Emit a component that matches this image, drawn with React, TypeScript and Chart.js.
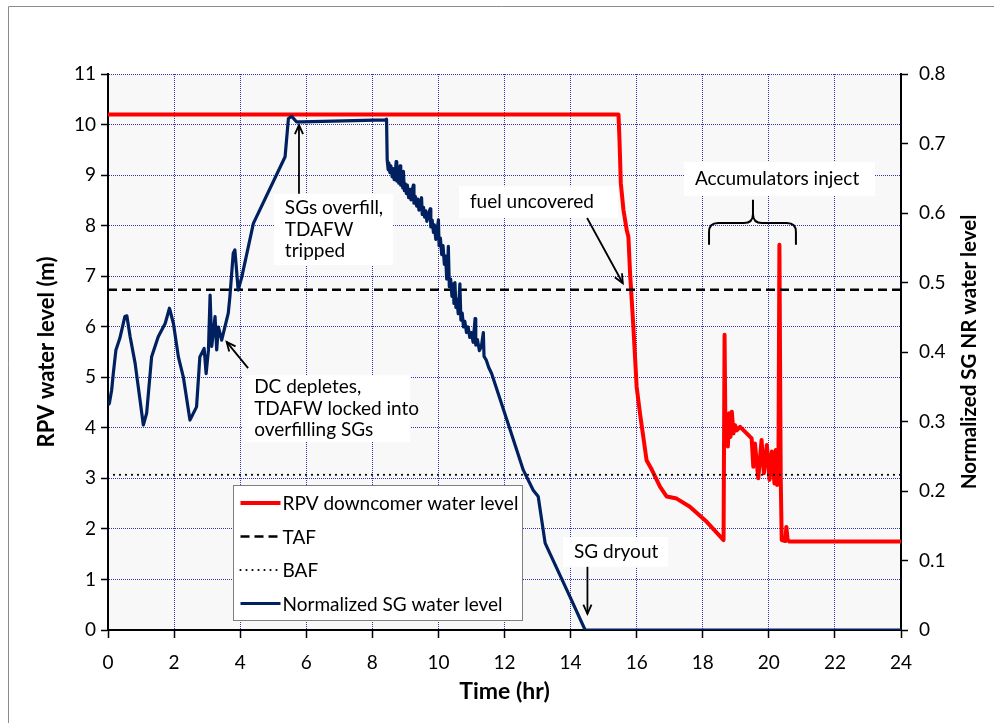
import { useEffect, useRef } from "react";
import { Chart, registerables } from "chart.js";

Chart.register(...registerables);

// RPV downcomer collapsed water level (m) vs time (hr)
const rpvTime = [
  0, 15.45, 15.48, 15.52, 15.6, 15.7, 15.75, 15.8, 15.9, 16.0, 16.1, 16.3, 16.46, 16.71, 16.91, 17.21, 17.61,
  18.12, 18.63, 18.66, 18.69, 18.72, 18.76, 18.8, 18.84, 18.88, 18.93, 18.98, 19.03, 19.13, 19.33, 19.48,
  19.53, 19.58, 19.68, 19.78, 19.85, 19.94, 20.02, 20.09, 20.17, 20.21, 20.25, 20.29, 20.32, 20.36, 20.39,
  20.5, 20.53, 20.57, 20.62, 24,
];
const rpvLevel = [
  10.2, 10.2, 9.7, 8.84, 8.31, 7.91, 7.78, 7.06, 6.0, 4.81, 4.29, 3.36, 3.17, 2.83, 2.64, 2.6, 2.44,
  2.14, 1.78, 5.84, 3.7, 4.22, 3.63, 4.29, 3.82, 4.32, 3.89, 4.05, 3.95, 4.02, 3.89, 3.79,
  3.23, 3.69, 3.0, 3.76, 3.1, 3.66, 2.97, 3.53, 2.9, 3.56, 2.87, 3.1, 7.62, 3.0, 1.78,
  1.76, 2.04, 1.78, 1.75, 1.75,
];

// Normalized SG narrow-range water level (fraction) vs time (hr)
const sgTime = [
  0, 0.04, 0.11, 0.16, 0.24, 0.36, 0.51, 0.57, 0.67, 0.82, 1.07, 1.17, 1.32, 1.52, 1.73, 1.86, 1.98, 2.13,
  2.28, 2.48, 2.68, 2.78, 2.91, 2.97, 3.04, 3.09, 3.14, 3.24, 3.29, 3.34, 3.44, 3.64, 3.69, 3.79, 3.84,
  3.94, 4.05, 4.4, 5.36, 5.46, 5.56, 5.71, 5.86, 8.4, 8.43,
  8.45, 8.48, 8.5, 8.53, 8.56, 8.6, 8.63, 8.66, 8.7, 8.72, 8.74, 8.78, 8.8, 8.84, 8.86, 8.9, 8.92, 8.94,
  8.97, 9.0, 9.03, 9.06, 9.1, 9.14, 9.17, 9.2, 9.24, 9.26, 9.3, 9.34, 9.38, 9.41, 9.45, 9.49, 9.51, 9.55,
  9.58, 9.62, 9.65, 9.7, 9.75, 9.77, 9.81, 9.85, 9.88, 9.92, 9.96, 10.0, 10.02, 10.06, 10.1, 10.14, 10.18,
  10.22, 10.25, 10.28, 10.3, 10.33, 10.37, 10.41, 10.45, 10.47, 10.5, 10.53, 10.56, 10.6, 10.65, 10.68,
  10.72, 10.76, 10.8, 10.85, 10.9, 10.95, 11.0, 11.05, 11.11, 11.13, 11.18, 11.24, 11.3, 11.36, 11.38,
  11.45, 11.52, 11.61, 12.17, 12.57, 12.87, 13.02, 13.23, 13.98, 14.44, 24,
];
const sgLevel = [
  0.324, 0.326, 0.345, 0.369, 0.403, 0.42, 0.451, 0.452, 0.422, 0.384, 0.295, 0.312, 0.393, 0.422, 0.441,
  0.463, 0.441, 0.393, 0.364, 0.302, 0.321, 0.393, 0.405, 0.369, 0.403, 0.482, 0.408, 0.451, 0.403, 0.436,
  0.417, 0.456, 0.48, 0.542, 0.547, 0.489, 0.508, 0.585, 0.681, 0.736, 0.739, 0.731, 0.731, 0.734, 0.735,
  0.676, 0.662, 0.672, 0.658, 0.668, 0.652, 0.664, 0.648, 0.66, 0.674, 0.646, 0.658, 0.643, 0.668, 0.64,
  0.652, 0.636, 0.66, 0.632, 0.642, 0.628, 0.64, 0.622, 0.634, 0.619, 0.63, 0.64, 0.614, 0.624, 0.61, 0.62,
  0.604, 0.614, 0.622, 0.598, 0.608, 0.594, 0.603, 0.588, 0.598, 0.606, 0.58, 0.59, 0.572, 0.583, 0.562,
  0.574, 0.59, 0.553, 0.564, 0.54, 0.553, 0.526, 0.538, 0.505, 0.52, 0.552, 0.494, 0.505, 0.48, 0.498,
  0.47, 0.5, 0.464, 0.476, 0.455, 0.498, 0.446, 0.456, 0.436, 0.444, 0.428, 0.436, 0.421, 0.428, 0.414,
  0.448, 0.41, 0.418, 0.402, 0.408, 0.428, 0.394, 0.388, 0.378, 0.369, 0.288, 0.23, 0.201, 0.192, 0.125,
  0.048, 0, 0,
];

// Top and bottom of active fuel (m)
const tafLevel = 6.73;
const bafLevel = 3.07;
const timeRange = [0, 24];

const legendLabels = [
  "RPV downcomer water level",
  "TAF",
  "BAF",
  "Normalized SG water level",
];

const FONT = 'Lato, "DejaVu Sans", sans-serif';
const NAVY = "#002060";
const GRID = "rgba(30,30,165,0.9)";

const zip = (xs: number[], ys: number[]) => xs.map((x, i) => ({ x, y: ys[i] }));

type Callout = {
  box: [number, number, number, number]; // t0, t1, levelTop, levelBottom
  lines: string[];
  arrow?: [number, number, number, number]; // from (t, level) to (t, level)
};

const callouts: Callout[] = [
  { box: [5.02, 8.63, 8.63, 7.22], lines: ["SGs overfill,", "TDAFW", "tripped"], arrow: [5.78, 8.63, 5.78, 9.99] },
  {
    box: [4.09, 9.14, 5.04, 3.72],
    lines: ["DC depletes,", "TDAFW locked into", "overfilling SGs"],
    arrow: [4.24, 5.18, 3.59, 5.7],
  },
  { box: [10.62, 15.44, 8.78, 8.15], lines: ["fuel uncovered"], arrow: [14.5, 8.15, 15.58, 6.86] },
  { box: [17.43, 23.21, 9.26, 8.59], lines: ["Accumulators inject"] },
  { box: [13.77, 16.95, 1.84, 1.25], lines: ["SG dryout"], arrow: [14.51, 1.25, 14.51, 0.32] },
];

// brace over the accumulator injection window: left, centre, right (hr); ends, bar, tip (m)
const brace = { t0: 18.19, tc: 19.52, t1: 20.82, vEnd: 7.62, vBar: 8.05, vTip: 8.51 };

function drawArrow(ctx: CanvasRenderingContext2D, x1: number, y1: number, x2: number, y2: number) {
  ctx.beginPath();
  ctx.moveTo(x1, y1);
  ctx.lineTo(x2, y2);
  ctx.stroke();
  const a = Math.atan2(y2 - y1, x2 - x1);
  const L = 10;
  const w = 0.42;
  ctx.beginPath();
  ctx.moveTo(x2 - L * Math.cos(a - w), y2 - L * Math.sin(a - w));
  ctx.lineTo(x2, y2);
  ctx.lineTo(x2 - L * Math.cos(a + w), y2 - L * Math.sin(a + w));
  ctx.stroke();
}

const backgroundPlugin = {
  id: "frameAndBackground",
  beforeDraw(chart: any) {
    const { ctx, chartArea } = chart;
    ctx.save();
    ctx.fillStyle = "#ffffff";
    ctx.fillRect(0, 0, chart.width, chart.height);
    ctx.strokeStyle = "#8c8c8c";
    ctx.lineWidth = 1;
    ctx.beginPath();
    ctx.moveTo(8.5, chart.height);
    ctx.lineTo(8.5, 6.5);
    ctx.lineTo(chart.width, 6.5);
    ctx.stroke();
    ctx.fillStyle = "#f8f8f8";
    ctx.fillRect(chartArea.left, chartArea.top, chartArea.right - chartArea.left, chartArea.bottom - chartArea.top);
    ctx.restore();
  },
};

const overlayPlugin = {
  id: "calloutsAndLegend",
  afterDraw(chart: any) {
    const { ctx, chartArea } = chart;
    const sx = chart.scales.x;
    const sy = chart.scales.y;
    const px = (t: number) => sx.getPixelForValue(t);
    const py = (v: number) => sy.getPixelForValue(v);
    ctx.save();

    // callout boxes with arrows
    ctx.font = `19px ${FONT}`;
    ctx.textBaseline = "middle";
    ctx.textAlign = "left";
    for (const c of callouts) {
      const [t0, t1, vTop, vBot] = c.box;
      const x0 = px(t0);
      const y0 = py(vTop);
      const x1 = px(t1);
      const y1 = py(vBot);
      ctx.fillStyle = "#ffffff";
      ctx.fillRect(x0, y0, x1 - x0, y1 - y0);
      ctx.fillStyle = "#000000";
      const lh = 21.5;
      const first = (y0 + y1) / 2 - ((c.lines.length - 1) * lh) / 2;
      c.lines.forEach((s, i) => ctx.fillText(s, x0 + 11, first + i * lh));
      if (c.arrow) {
        ctx.strokeStyle = "#000000";
        ctx.lineWidth = 1.8;
        const [a0, b0, a1, b1] = c.arrow;
        drawArrow(ctx, px(a0), py(b0), px(a1), py(b1));
      }
    }

    // curly brace
    {
      const xl = px(brace.t0);
      const xc = px(brace.tc);
      const xr = px(brace.t1);
      const ye = py(brace.vEnd);
      const yb = py(brace.vBar);
      const yt = py(brace.vTip);
      const r = 9;
      ctx.strokeStyle = "#000000";
      ctx.lineWidth = 2;
      ctx.beginPath();
      ctx.moveTo(xl, ye);
      ctx.lineTo(xl, yb + r);
      ctx.quadraticCurveTo(xl, yb, xl + r, yb);
      ctx.lineTo(xc - r, yb);
      ctx.quadraticCurveTo(xc, yb, xc, yb - r);
      ctx.lineTo(xc, yt);
      ctx.moveTo(xc, yb - r);
      ctx.quadraticCurveTo(xc, yb, xc + r, yb);
      ctx.lineTo(xr - r, yb);
      ctx.quadraticCurveTo(xr, yb, xr, yb + r);
      ctx.lineTo(xr, ye);
      ctx.stroke();
    }

    // legend
    {
      const lx = chartArea.left + 125.5;
      const ly = chartArea.top + 411.5;
      const lw = 289;
      const lhBox = 135;
      ctx.fillStyle = "#ffffff";
      ctx.fillRect(lx, ly, lw, lhBox);
      ctx.strokeStyle = "#7f7f7f";
      ctx.lineWidth = 1;
      ctx.strokeRect(lx, ly, lw, lhBox);
      const rows = [ly + 17.5, ly + 51, ly + 84.5, ly + 118];
      const styles = [
        { color: "#ff0000", width: 4, dash: [] as number[], cap: "butt" },
        { color: "#000000", width: 2.5, dash: [9, 5], cap: "butt" },
        { color: "#000000", width: 2.2, dash: [0, 6], cap: "round" },
        { color: NAVY, width: 3, dash: [] as number[], cap: "butt" },
      ];
      styles.forEach((s, i) => {
        ctx.save();
        ctx.strokeStyle = s.color;
        ctx.lineWidth = s.width;
        ctx.setLineDash(s.dash);
        ctx.lineCap = s.cap as CanvasLineCap;
        ctx.beginPath();
        ctx.moveTo(lx + 7, rows[i]);
        ctx.lineTo(lx + 47, rows[i]);
        ctx.stroke();
        ctx.restore();
        ctx.fillStyle = "#000000";
        ctx.font = `19px ${FONT}`;
        ctx.textBaseline = "middle";
        ctx.fillText(legendLabels[i], lx + 49, rows[i] + 1);
      });
    }

    // axis titles
    ctx.fillStyle = "#000000";
    ctx.textAlign = "center";
    ctx.textBaseline = "middle";
    ctx.font = `bold 23px ${FONT}`;
    ctx.fillText("Time (hr)", (chartArea.left + chartArea.right) / 2, 692);
    ctx.save();
    ctx.translate(47, (chartArea.top + chartArea.bottom) / 2);
    ctx.rotate(-Math.PI / 2);
    ctx.font = `bold 22px ${FONT}`;
    ctx.fillText("RPV water level (m)", 0, 0);
    ctx.restore();
    ctx.save();
    ctx.translate(969, (chartArea.top + chartArea.bottom) / 2);
    ctx.rotate(-Math.PI / 2);
    ctx.font = `bold 20.5px ${FONT}`;
    ctx.fillText("Normalized SG NR water level", 0, 0);
    ctx.restore();

    ctx.restore();
  },
};

export default function App() {
  const ref = useRef<HTMLCanvasElement>(null);

  useEffect(() => {
    const canvas = ref.current;
    if (!canvas) return;
    const tickFont = { family: FONT, size: 19 };
    const chart = new Chart(canvas, {
      type: "line",
      data: {
        datasets: [
          {
            label: legendLabels[0],
            data: zip(rpvTime, rpvLevel),
            borderColor: "#ff0000",
            borderWidth: 4,
            yAxisID: "y",
            order: 4,
          },
          {
            label: legendLabels[1],
            data: zip(timeRange, [tafLevel, tafLevel]),
            borderColor: "#000000",
            borderWidth: 2.5,
            borderDash: [9, 5],
            yAxisID: "y",
            order: 3,
          },
          {
            label: legendLabels[2],
            data: zip(timeRange, [bafLevel, bafLevel]),
            borderColor: "#000000",
            borderWidth: 2.2,
            borderDash: [0, 6],
            borderCapStyle: "round",
            yAxisID: "y",
            order: 2,
          },
          {
            label: legendLabels[3],
            data: zip(sgTime, sgLevel),
            borderColor: NAVY,
            borderWidth: 3.2,
            yAxisID: "y2",
            order: 1,
          },
        ],
      },
      options: {
        animation: false,
        responsive: false,
        devicePixelRatio: 1,
        layout: { padding: { top: 74, left: 0, right: 0, bottom: 0 } },
        elements: {
          point: { radius: 0 },
          line: { tension: 0, borderJoinStyle: "round", fill: false },
        },
        plugins: { legend: { display: false }, tooltip: { enabled: false } },
        scales: {
          x: {
            type: "linear",
            min: 0,
            max: 24,
            afterFit: (s: any) => {
              s.height = 93;
            },
            ticks: { stepSize: 2, font: tickFont, color: "#000", padding: 13, maxRotation: 0, autoSkip: false },
            grid: { color: GRID, lineWidth: 1, tickColor: "#000", tickLength: 8, tickWidth: 1.5 },
            border: { color: "#000", width: 2, dash: [1, 1] },
          },
          y: {
            type: "linear",
            position: "left",
            min: 0,
            max: 11,
            afterFit: (s: any) => {
              s.width = 108;
            },
            ticks: { stepSize: 1, font: tickFont, color: "#000", padding: 5 },
            grid: { color: GRID, lineWidth: 1, tickColor: "#000", tickLength: 7, tickWidth: 1.5 },
            border: { color: "#000", width: 2, dash: [1, 1] },
          },
          y2: {
            type: "linear",
            position: "right",
            min: 0,
            max: 0.8,
            afterFit: (s: any) => {
              s.width = 93;
            },
            ticks: {
              stepSize: 0.1,
              font: tickFont,
              color: "#000",
              padding: 11,
              callback: (v: any) => String(Number(Number(v).toFixed(1))),
            },
            grid: { drawOnChartArea: false, tickColor: "#000", tickLength: 7, tickWidth: 1.5 },
            border: { color: "#000", width: 2 },
          },
        },
      },
      plugins: [backgroundPlugin, overlayPlugin],
    } as any);
    return () => chart.destroy();
  }, []);

  return (
    <div style={{ position: "fixed", left: 0, top: 0, width: 994, height: 723, background: "#fff" }}>
      <canvas ref={ref} width={994} height={723} style={{ display: "block", width: 994, height: 723 }} />
    </div>
  );
}
